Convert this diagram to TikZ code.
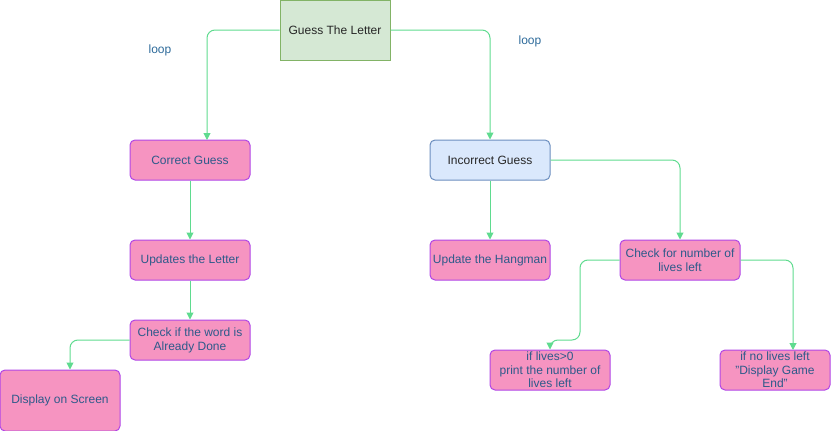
\documentclass[tikz,border=0pt]{standalone}
\usepackage{fontspec}
\setmainfont{Liberation Sans}
\usetikzlibrary{arrows.meta,calc}
\definecolor{greenfill}{HTML}{D5E8D4}
\definecolor{greenline}{HTML}{82B366}
\definecolor{bluefill}{HTML}{DAE8FC}
\definecolor{blueline}{HTML}{6C8EBF}
\definecolor{pinkfill}{HTML}{F694C1}
\definecolor{pinkline}{HTML}{B146E6}
\definecolor{pinktext}{HTML}{2D5A8A}
\definecolor{edgecol}{HTML}{5FDB8F}
\definecolor{looptext}{HTML}{2D6A9A}
\tikzset{
  x=1pt,y=-1pt,
  every node/.style={font=\fontsize{12}{14}\selectfont, align=center, inner sep=0pt},
  greenbox/.style={draw=greenline, fill=greenfill, line width=1pt, text=black!85},
  bluebox/.style={draw=blueline, fill=bluefill, line width=1pt, rounded corners=5pt, text=black!85},
  pinkbox/.style={draw=pinkline, fill=pinkfill, line width=1pt, rounded corners=5pt, text=pinktext},
  flow/.style={draw=edgecol, line width=1pt, rounded corners=8pt, -{Triangle[length=7pt,width=7pt]}},
  looplabel/.style={text=looptext}
}
\begin{document}
\begin{tikzpicture}
\useasboundingbox (0,0) rectangle (831,431);
\node[greenbox, minimum width=110pt, minimum height=60pt] (guess) at (335,30) {Guess The Letter};
\node[pinkbox, minimum width=120pt, minimum height=40pt] (correct) at (190,160) {Correct Guess};
\node[bluebox, minimum width=120pt, minimum height=40pt] (incorrect) at (490,160) {Incorrect Guess};
\node[pinkbox, minimum width=120pt, minimum height=40pt] (updates) at (190,260) {Updates the Letter};
\node[pinkbox, minimum width=120pt, minimum height=40pt] (checkword) at (190,340) {Check if the word is\\Already Done};
\node[pinkbox, minimum width=120pt, minimum height=61pt] (display) at (60,400.5) {Display on Screen};
\node[pinkbox, minimum width=120pt, minimum height=40pt] (hangman) at (490,260) {Update the Hangman};
\node[pinkbox, minimum width=120pt, minimum height=40pt] (checklives) at (680,260) {Check for number of\\lives left};
\node[pinkbox, minimum width=120pt, minimum height=40pt, font=\fontsize{12}{13.5}\selectfont] (livesgt) at (550,370) {if lives>0\\print the number of\\lives left};
\node[pinkbox, minimum width=110pt, minimum height=40pt, font=\fontsize{12}{13.5}\selectfont] (nolives) at (775,370) {if no lives left\\"Display Game\\End"};
\node[looplabel] (loopl) at (160,50) {loop};
\node[looplabel] (loopr) at (530,41) {loop};
\coordinate (ctop) at (207,140);
\coordinate (nltop) at (793,350);
\draw[flow] (guess.west) -| (ctop);
\draw[flow] (guess.east) -| (incorrect.north);
\draw[flow] (correct.south) -- (updates.north);
\draw[flow] (updates.south) -- (checkword.north);
\draw[flow] (checkword.west) -| (display.north -| 70,0);
\draw[flow] (incorrect.south) -- (hangman.north);
\draw[flow] (incorrect.east) -| (checklives.north);
\draw[flow] (checklives.west) -- (580,260) -- (580,340) -- (550,340) -- (livesgt.north);
\draw[flow] (checklives.east) -| (nltop);
\end{tikzpicture}
\end{document}
